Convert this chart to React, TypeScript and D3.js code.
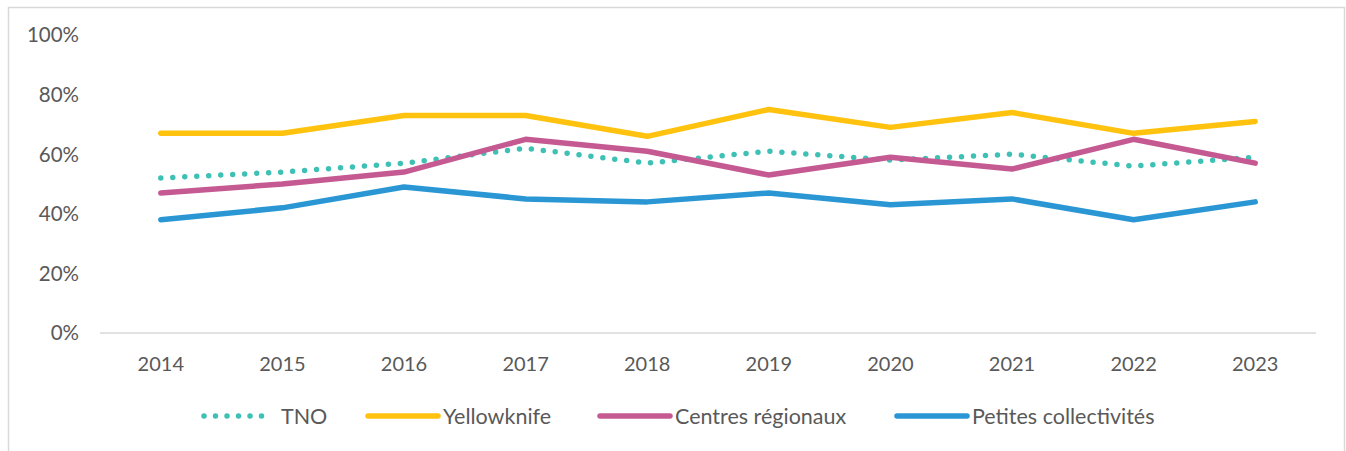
import React from "react";
import * as d3 from "d3";

const years = ["2014", "2015", "2016", "2017", "2018", "2019", "2020", "2021", "2022", "2023"];
const tno = [52, 54, 57, 62, 57, 61, 58, 60, 56, 59];
const yellowknife = [67, 67, 73, 73, 66, 75, 69, 74, 67, 71];
const centres = [47, 50, 54, 65, 61, 53, 59, 55, 65, 57];
const petites = [38, 42, 49, 45, 44, 47, 43, 45, 38, 44];
const yTicks = [0, 20, 40, 60, 80, 100];

const seriesNames = ["TNO", "Yellowknife", "Centres régionaux", "Petites collectivités"];
const seriesColors = ["#3EC1B4", "#FFC20E", "#C55A93", "#2A97D4"];

const W = 1346;
const H = 451;
const FONT = "Lato, 'Open Sans', sans-serif";

export default function App() {
  const series = [
    { name: seriesNames[0], values: tno, color: seriesColors[0], dotted: true },
    { name: seriesNames[1], values: yellowknife, color: seriesColors[1], dotted: false },
    { name: seriesNames[2], values: centres, color: seriesColors[2], dotted: false },
    { name: seriesNames[3], values: petites, color: seriesColors[3], dotted: false },
  ];
  const x = d3.scaleBand<string>().domain(years).range([100, 1316]);
  const y = d3.scaleLinear().domain([0, 100]).range([333, 35]);
  const line = d3
    .line<number>()
    .x((_, i) => (x(years[i]) as number) + x.bandwidth() / 2)
    .y((d) => y(d));

  const legendX = [204, 368, 600, 897];
  const legendTextX = [281, 443, 675, 972];
  const legendY = 416;

  return (
    <svg
      width={W}
      height={H}
      style={{ position: "absolute", left: 0, top: 0, background: "#fff" }}
      fontFamily={FONT}
    >
      <rect x={8.5} y={7.5} width={1336} height={470} fill="#fff" stroke="#d9d9d9" strokeWidth={1.5} />
      {yTicks.map((t) => (
        <text key={t} x={79} y={y(t)} dy="0.36em" textAnchor="end" fontSize={20.5} fill="#595959">
          {t}%
        </text>
      ))}
      <line x1={100} x2={1316} y1={y(0)} y2={y(0)} stroke="#d9d9d9" strokeWidth={1.5} />
      {years.map((yr) => (
        <text
          key={yr}
          x={(x(yr) as number) + x.bandwidth() / 2}
          y={371}
          textAnchor="middle"
          fontSize={20}
          fill="#595959"
        >
          {yr}
        </text>
      ))}
      {series.map((s) => (
        <path
          key={s.name}
          d={line(s.values) || ""}
          fill="none"
          stroke={s.color}
          strokeWidth={5.5}
          strokeLinecap="round"
          strokeLinejoin="round"
          strokeDasharray={s.dotted ? "0 12" : undefined}
        />
      ))}
      {series.map((s, i) => (
        <g key={"lg" + s.name}>
          <line
            x1={legendX[i]}
            x2={s.dotted ? legendX[i] + 58 : legendX[i] + 70}
            y1={legendY}
            y2={legendY}
            stroke={s.color}
            strokeWidth={5.5}
            strokeLinecap="round"
            strokeDasharray={s.dotted ? "0 11.5" : undefined}
          />
          <text x={legendTextX[i]} y={legendY} dy="0.36em" fontSize={21.5} fill="#595959">
            {s.name}
          </text>
        </g>
      ))}
    </svg>
  );
}
